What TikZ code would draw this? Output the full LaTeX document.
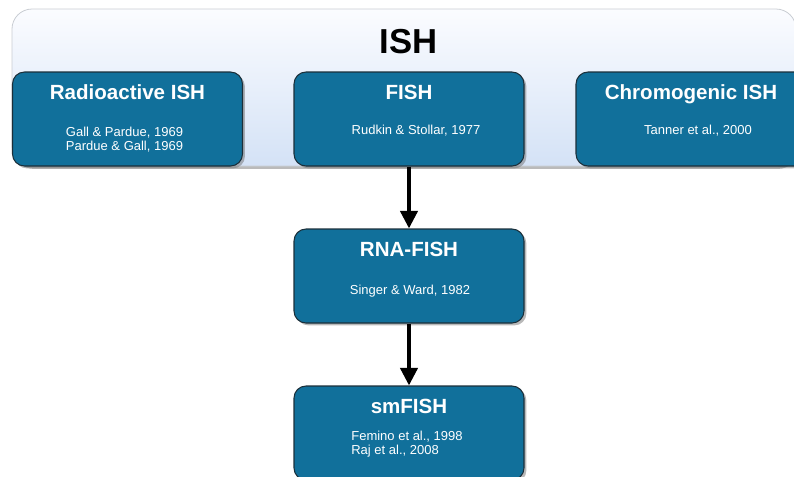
\documentclass[tikz,border=0pt]{standalone}
\usepackage{fontspec}
\setmainfont{Liberation Sans}
\usetikzlibrary{arrows.meta,shadows,calc}
\definecolor{boxblue}{HTML}{11709B}
\definecolor{boxedge}{HTML}{1B2F3A}
\definecolor{paneltop}{HTML}{FBFCFF}
\definecolor{panelbot}{HTML}{D4E2F6}
\definecolor{paneledge}{HTML}{C9CDD3}
\begin{document}
\begin{tikzpicture}[x=0.75pt,y=-0.75pt,
  stagebox/.style={draw=boxedge, line width=0.8pt, fill=boxblue, rounded corners=9pt,
    minimum width=172.5pt, minimum height=70.5pt, inner sep=0pt,
    drop shadow={shadow xshift=1.8pt, shadow yshift=-1.8pt, fill=black!55, opacity=0.5}},
  stagetitle/.style={anchor=base, text=white, inner sep=0pt, font=\fontsize{15.4}{18}\selectfont\bfseries},
  stageref/.style={anchor=north, text=white, inner sep=0pt, font=\fontsize{9.75}{10.5}\selectfont},
  flowarrow/.style={line width=3pt, -{Triangle[length=13.2pt,width=12.8pt]}}
]
\useasboundingbox (0,0) rectangle (794,476);
\clip (0,0) rectangle (794,476);

% outer ISH panel
\node[draw=paneledge, line width=0.6pt, top color=paneltop, bottom color=panelbot,
  rounded corners=15pt, minimum width=588pt, minimum height=117.75pt, inner sep=0pt,
  drop shadow={shadow xshift=1.5pt, shadow yshift=-2.2pt, fill=black!45, opacity=0.6}]
  (panel) at (404,87.5) {};
\node[anchor=base, inner sep=0pt, font=\fontsize{26}{30}\selectfont\bfseries] (ishtitle) at (408.5,53) {ISH};

% boxes
\node[stagebox] (radio) at (127.5,119) {};
\node[stagebox] (fish) at (409,119) {};
\node[stagebox] (chromo) at (691,119) {};
\node[stagebox] (rna) at (409,276) {};
\node[stagebox] (sm) at (409,433) {};

% titles
\node[stagetitle] (radiot) at ($(radio.north)+(0,28)$) {Radioactive ISH};
\node[stagetitle] (fisht) at ($(fish.north)+(0,28)$) {FISH};
\node[stagetitle] (chromot) at ($(chromo.north)+(0,28)$) {Chromogenic ISH};
\node[stagetitle] (rnat) at ($(rna.north)+(0,28)$) {RNA-FISH};
\node[stagetitle] (smt) at ($(sm.north)+(0,28)$) {smFISH};

% references
\node[stageref, align=center] (radior) at ($(radio.north)+(-3,55)$) {Gall \& Pardue, 1969\\Pardue \& Gall, 1969};
\node[stageref] (fishr) at ($(fish.north)+(7,53)$) {Rudkin \& Stollar, 1977};
\node[stageref] (chromor) at ($(chromo.north)+(7,53)$) {Tanner et al., 2000};
\node[stageref] (rnar) at ($(rna.north)+(1,56.5)$) {Singer \& Ward, 1982};
\node[stageref, align=left] (smr) at ($(sm.north)+(-2,45.5)$) {Femino et al., 1998\\Raj et al., 2008};

% arrows
\draw[flowarrow] (fish.south) -- (rna.north);
\draw[flowarrow] (rna.south) -- (sm.north);
\end{tikzpicture}
\end{document}
